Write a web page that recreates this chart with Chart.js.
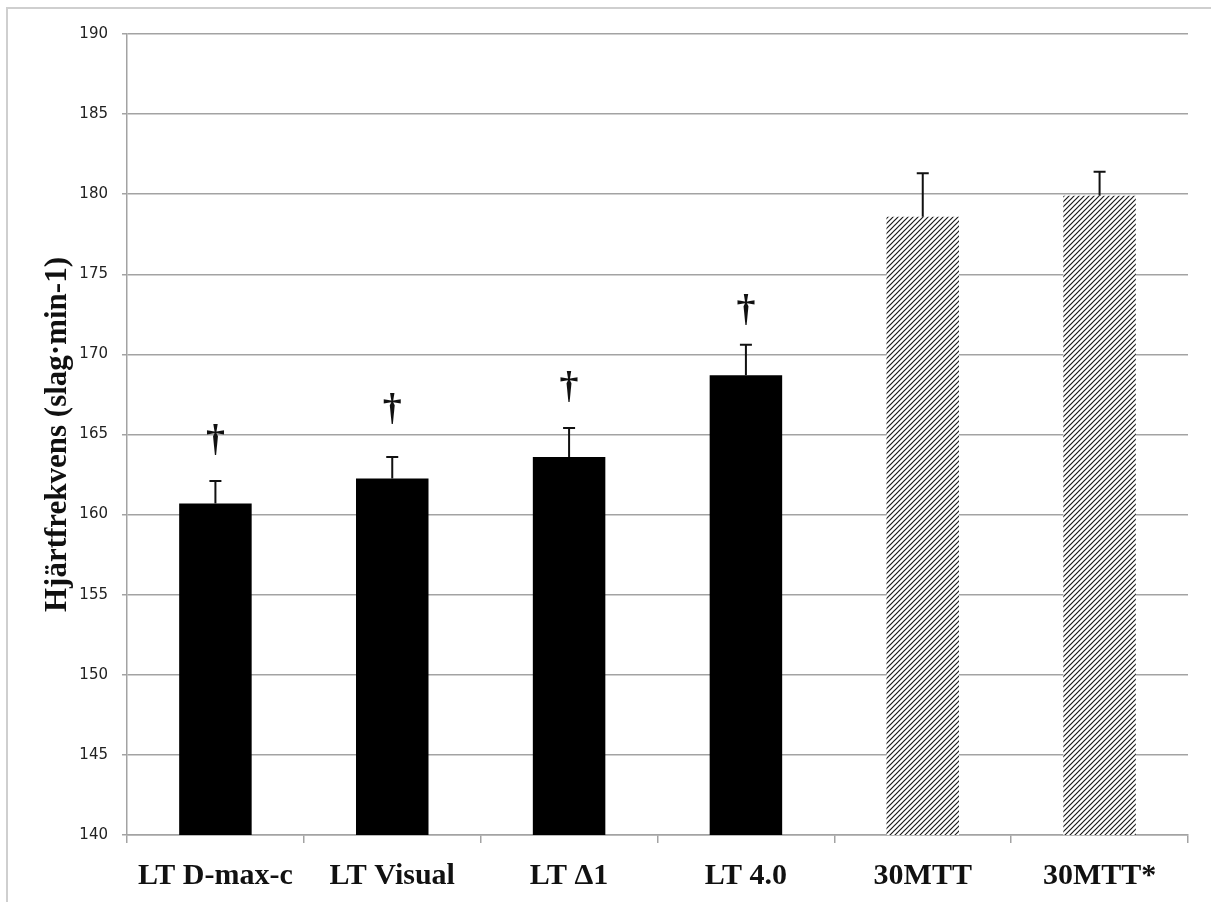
<!DOCTYPE html>
<html>
<head>
<meta charset="utf-8">
<script src="https://cdn.jsdelivr.net/npm/chart.js@4/dist/chart.umd.min.js"></script>
<style>
    body { margin: 0; background: #fff; }
    #wrap { position: relative; width: 1211px; height: 902px; }
    #frame {
        position: absolute; left: 6px; top: 7px; right: 0; bottom: -4px;
        border: 2px solid #cfcfcf;
        border-right: none;
        pointer-events: none;
    }
    canvas { position: absolute; left: 0; top: 0; }
</style>
</head>
<body>
<div id="wrap">
    <canvas id="hr" width="1211" height="902"></canvas>
    <div id="frame"></div>
</div>
<script>
// data
const categories = ['LT D-max-c', 'LT Visual', 'LT \u03941', 'LT 4.0', '30MTT', '30MTT*']
const heartRate = [160.7, 162.25, 163.6, 168.7, 178.6, 179.9]
const errorTop = [162.1, 163.6, 165.4, 170.6, 181.3, 181.4]
const hatched = [false, false, false, false, true, true]
// y value where each dagger sits (null = no dagger)
const daggerAt = [164.7, 166.6, 168.0, 172.8, null, null]
const yTicks = { min: 140, max: 190, step: 5 }

const gridGrey = '#a3a3a3'

function hatchPattern() {
    const c = document.createElement('canvas')
    c.width = 5
    c.height = 5
    const g = c.getContext('2d')
    g.fillStyle = '#fff'
    g.fillRect(0, 0, 5, 5)
    g.strokeStyle = '#1a1a1a'
    g.lineWidth = 1.2
    g.beginPath()
    g.moveTo(-1, 6); g.lineTo(6, -1)
    g.moveTo(-1, 1); g.lineTo(1, -1)
    g.moveTo(4, 6); g.lineTo(6, 4)
    g.stroke()
    return g.createPattern(c, 'repeat')
}

const errorBars = {
    id: 'errorBars',
    afterDatasetsDraw(chart) {
        const ctx = chart.ctx
        const meta = chart.getDatasetMeta(0)
        const y = chart.scales.y
        ctx.save()
        ctx.strokeStyle = '#111'
        ctx.lineWidth = 2
        meta.data.forEach((bar, i) => {
            const yTop = y.getPixelForValue(errorTop[i])
            ctx.beginPath()
            ctx.moveTo(bar.x, bar.y)
            ctx.lineTo(bar.x, yTop)
            ctx.moveTo(bar.x - 6, yTop)
            ctx.lineTo(bar.x + 6, yTop)
            ctx.stroke()
        })
        ctx.fillStyle = '#111'
        ctx.font = 'bold 38px "Liberation Serif", "Times New Roman", serif'
        ctx.textAlign = 'center'
        ctx.textBaseline = 'alphabetic'
        meta.data.forEach((bar, i) => {
            if (daggerAt[i] == null) return
            const m = ctx.measureText('\u2020')
            const cy = y.getPixelForValue(daggerAt[i])
            const base = cy + (m.actualBoundingBoxAscent - m.actualBoundingBoxDescent) / 2
            ctx.fillText('\u2020', bar.x, base)
        })
        ctx.restore()
    }
}

const pattern = hatchPattern()

new Chart(document.getElementById('hr'), {
    type: 'bar',
    data: {
        labels: categories,
        datasets: [{
            data: heartRate,
            backgroundColor: hatched.map(h => h ? pattern : '#000'),
            borderWidth: 0,
            categoryPercentage: 1,
            barPercentage: 0.41,
        }]
    },
    options: {
        responsive: false,
        animation: false,
        layout: { padding: { top: 34, right: 23, left: 0, bottom: 0 } },
        plugins: {
            legend: { display: false },
            tooltip: { enabled: false },
        },
        scales: {
            x: {
                afterFit: s => { s.height = 67 },
                grid: {
                    drawOnChartArea: false,
                    drawTicks: true,
                    tickLength: 8,
                    color: gridGrey,
                    lineWidth: 1.5,
                },
                border: { color: gridGrey, width: 1.5 },
                ticks: {
                    padding: 15,
                    color: '#111',
                    font: { family: '"Liberation Serif", "Times New Roman", serif', size: 30, weight: 'bold' },
                },
            },
            y: {
                min: yTicks.min,
                max: yTicks.max,
                afterFit: s => { s.width = 127 },
                grid: {
                    color: gridGrey,
                    lineWidth: 1.5,
                    tickLength: 5,
                },
                border: { color: gridGrey, width: 1.5 },
                ticks: {
                    stepSize: yTicks.step,
                    padding: 14,
                    color: '#222',
                    font: { family: '"DejaVu Sans", sans-serif', size: 15 },
                },
                title: {
                    display: true,
                    text: 'Hj\u00e4rtfrekvens (slag\u00b7min-1)',
                    color: '#111',
                    padding: { top: 39, bottom: 0 },
                    font: { family: '"Liberation Serif", "Times New Roman", serif', size: 31, weight: 'bold' },
                },
            },
        },
    },
    plugins: [errorBars],
})
</script>
</body>
</html>
